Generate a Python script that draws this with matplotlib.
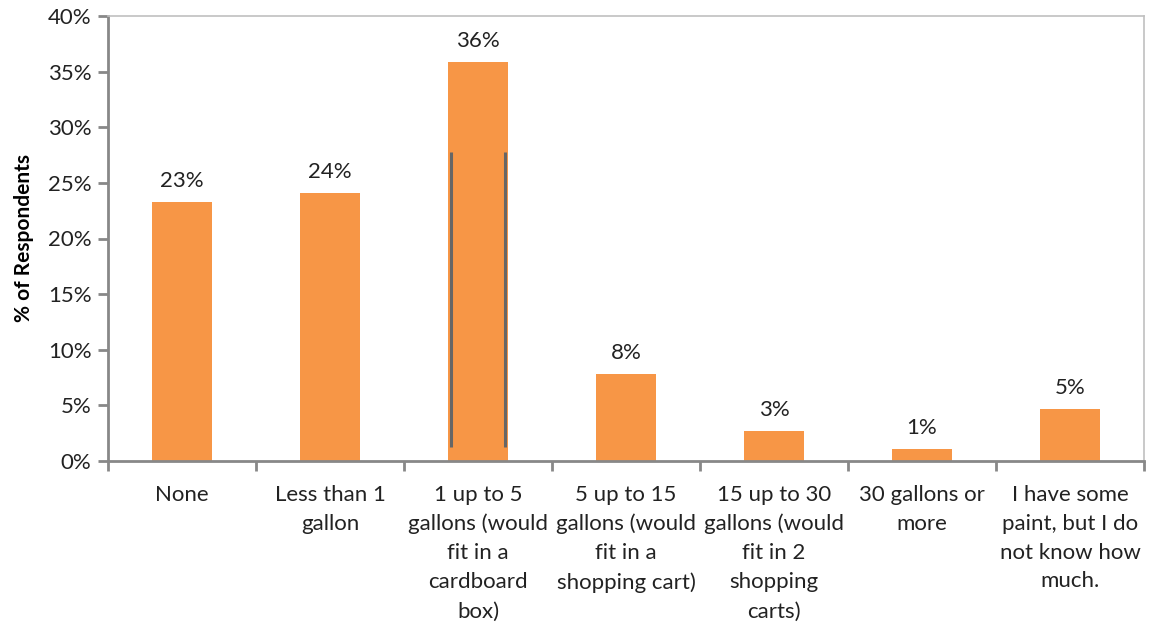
import matplotlib
matplotlib.use("Agg")
import matplotlib.pyplot as plt
import numpy as np
from matplotlib.ticker import FixedLocator, PercentFormatter

# Survey answers - amount of leftover paint
categories = [
    "None",
    "Less than 1\ngallon",
    "1 up to 5\ngallons (would\nfit in a\ncardboard\nbox)",
    "5 up to 15\ngallons (would\nfit in a\nshopping cart)",
    "15 up to 30\ngallons (would\nfit in 2\nshopping\ncarts)",
    "30 gallons or\nmore",
    "I have some\npaint, but I do\nnot know how\nmuch.",
]
values = [23.3, 24.1, 35.9, 7.8, 2.7, 1.1, 4.7]
labels = ["23%", "24%", "36%", "8%", "3%", "1%", "5%"]

# stray grey lines drawn over the third bar in the original (low, high)
stray_span = [1.3, 27.8]

plt.rcParams['font.family'] = ['Lato', 'DejaVu Sans']

fig = plt.figure(figsize=(11.54, 6.22), dpi=100)
ax = fig.add_axes([108 / 1154, 1 - 461 / 622, (1144 - 108) / 1154, (461 - 16) / 622])

x = np.arange(len(categories))
bar_w = 0.4
ax.bar(x, values, width=bar_w, color="#F79646", zorder=2)

fs = 16
for xi, v, lab in zip(x, values, labels):
    ax.annotate(lab, (xi, v), xytext=(0, 8), textcoords="offset points",
                ha="center", va="bottom", fontsize=fs, color="#222222")

# the odd grey lines on the "1 up to 5" bar
ax.vlines([x[2] - bar_w / 2 + 0.02, x[2] + bar_w / 2 - 0.02], stray_span[0], stray_span[1],
          color="#666666", linewidth=2.2, zorder=3)

ax.set_xlim(-0.5, len(categories) - 0.5)
ax.set_ylim(0, 40)
ax.yaxis.set_major_locator(FixedLocator(np.arange(0, 41, 5)))
ax.yaxis.set_major_formatter(PercentFormatter(decimals=0))

ax.set_xticks(x)
ax.set_xticklabels(categories, fontsize=fs, linespacing=1.56, color="#222222")
ax.set_xticks(np.arange(-0.5, len(categories)), minor=True)
ax.tick_params(axis="x", which="major", length=0, pad=17)
ax.tick_params(axis="x", which="minor", length=7, width=2, color="#888888")
ax.tick_params(axis="y", length=7, width=2, color="#888888", labelsize=fs,
               labelcolor="#222222", pad=5)

ax.set_ylabel("% of Respondents", fontsize=15, fontweight="bold", labelpad=10)

for side in ["left", "bottom"]:
    ax.spines[side].set_color("#888888")
    ax.spines[side].set_linewidth(2)
for side in ["top", "right"]:
    ax.spines[side].set_color("#c0c0c0")
    ax.spines[side].set_linewidth(1.2)

fig.savefig("out.png", dpi=100)
